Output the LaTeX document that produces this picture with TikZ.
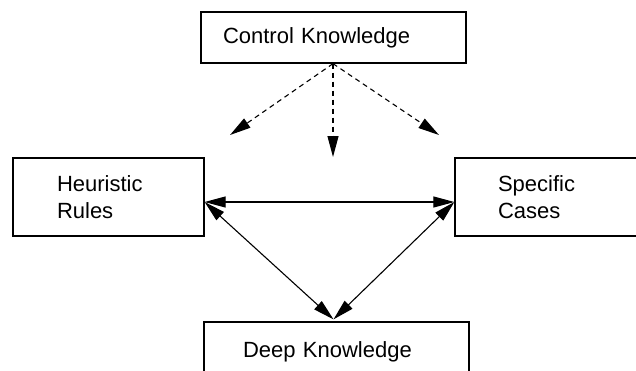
\documentclass[tikz,border=0pt]{standalone}
\usepackage{fontspec}
\setmainfont{Liberation Sans}
\usetikzlibrary{arrows.meta}

\begin{document}
\begin{tikzpicture}[x=1pt,y=-1pt,
  kbox/.style={draw=black,line width=1.3pt,align=left,minimum height=#1,inner ysep=0pt,
    font=\fontsize{22}{27}\selectfont},
  link/.style={line width=1.1pt,{Triangle[length=21pt,width=11pt]}-{Triangle[length=21pt,width=11pt]}},
  ctrl/.style={line width=1.1pt,dash pattern=on 5pt off 4pt,-{Triangle[length=21pt,width=11pt]}}]
\useasboundingbox (0,0) rectangle (636,370);
\clip (0,0) rectangle (636,370);

\node[kbox=51pt,inner xsep=22pt,text width=221pt] (CK) at (333.5,37.5) {Control Knowledge};
\node[kbox=78pt,inner xsep=44pt,text width=103pt] (HR) at (108.5,197) {Heuristic\\Rules};
\node[kbox=78pt,inner xsep=43pt,text width=114pt] (SC) at (555,197) {Specific\\Cases};
\node[kbox=60pt,inner xsep=39pt,text width=187pt] (DK) at (336.5,352) {Deep Knowledge};

% free ends of the dashed arrows
\coordinate (toHR) at (230,135);
\coordinate (toMid) at (333,157);
\coordinate (toSC) at (439,135);

\coordinate (hrE) at ([yshift=-5pt]HR.east);
\coordinate (scW) at ([yshift=-5pt]SC.west);
\coordinate (dkN) at ([xshift=-3pt,yshift=2pt]DK.north);

\draw[ctrl] ([xshift=-0.5pt]CK.south) -- (toHR);
\draw[ctrl] ([xshift=-0.5pt]CK.south) -- (toMid);
\draw[ctrl] ([xshift=-0.5pt]CK.south) -- (toSC);

\draw[link] (hrE) -- (scW);
\draw[link] (hrE) -- (dkN);
\draw[link] (scW) -- (dkN);

\end{tikzpicture}
\end{document}
